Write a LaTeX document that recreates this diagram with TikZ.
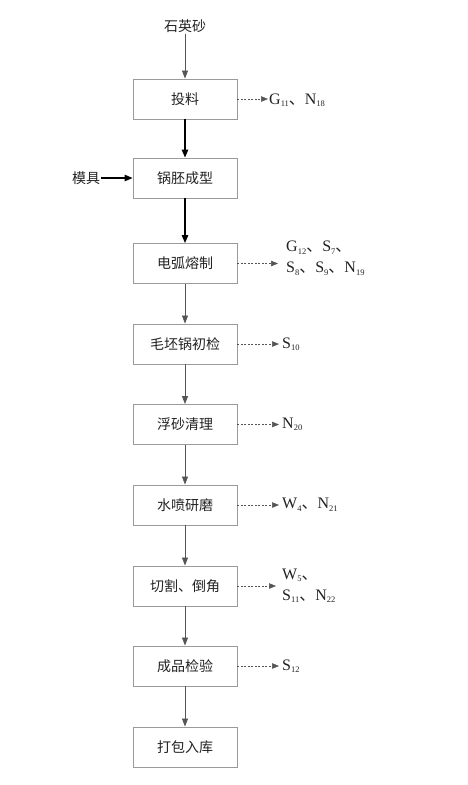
\documentclass[tikz,border=0pt]{standalone}
\usepackage{fontspec}
\setmainfont{Liberation Serif}
\newfontfamily\cjk{Noto Sans CJK SC}
\usetikzlibrary{arrows.meta}
\newcommand{\mysb}[1]{\raisebox{-2.5pt}{\fontsize{8.5}{8.5}\selectfont #1}}
\newcommand{\dun}{{\cjk 、}}
\definecolor{boxgray}{HTML}{9A9A9A}
\definecolor{arrgray}{HTML}{555555}
\definecolor{txt}{HTML}{222222}
\begin{document}
\begin{tikzpicture}[x=1pt,y=-1pt,
  procbox/.style={draw=boxgray, line width=0.9pt, minimum width=104pt, minimum height=40pt, inner sep=0pt, font=\cjk\fontsize{14}{14}\selectfont, text=txt},
  plain/.style={font=\cjk\fontsize{14}{14}\selectfont, text=txt, inner sep=1pt},
  emis/.style={anchor=west, inner sep=1pt, align=left, font=\fontsize{16}{21}\selectfont, text=txt},
  thinarr/.style={draw=arrgray, line width=0.7pt, -{Triangle[length=8pt,width=6pt]}},
  thickarr/.style={draw=black, line width=1.2pt, -{Triangle[length=8pt,width=6.5pt]}},
  dasharr/.style={draw=arrgray, line width=0.6pt, dash pattern=on 2pt off 1.5pt, -{Triangle[length=7pt,width=5.5pt]}}
]
\useasboundingbox (0,0) rectangle (468,785);
\node[plain] (src) at (185,26) {石英砂};
\node[plain] (mold) at (86,178) {模具};
\node[procbox] (b1) at (185,99) {投料};
\node[procbox] (b2) at (185,178) {锅胚成型};
\node[procbox] (b3) at (185,263.5) {电弧熔制};
\node[procbox] (b4) at (185,344) {毛坯锅初检};
\node[procbox] (b5) at (185,424.5) {浮砂清理};
\node[procbox] (b6) at (185,505) {水喷研磨};
\node[procbox] (b7) at (185,586) {切割\dun 倒角};
\node[procbox] (b8) at (185,666) {成品检验};
\node[procbox] (b9) at (185,747) {打包入库};

\node[emis] (l1) at (268,100) {G\mysb{11}\dun N\mysb{18}};
\node[emis] (l3) at (285,258) {G\mysb{12}\dun S\mysb{7}\dun\\S\mysb{8}\dun S\mysb{9}\dun N\mysb{19}};
\node[emis] (l4) at (281,344) {S\mysb{10}};
\node[emis] (l5) at (281,424.5) {N\mysb{20}};
\node[emis] (l6) at (281,505) {W\mysb{4}\dun N\mysb{21}};
\node[emis] (l7) at (281,586) {W\mysb{5}\dun\\S\mysb{11}\dun N\mysb{22}};
\node[emis] (l8) at (281,666) {S\mysb{12}};

\draw[thinarr] (src) -- (b1);
\draw[thickarr] (b1) -- (b2);
\draw[thickarr] (mold) -- (b2);
\draw[thickarr] (b2) -- (b3);
\draw[thinarr] (b3) -- (b4);
\draw[thinarr] (b4) -- (b5);
\draw[thinarr] (b5) -- (b6);
\draw[thinarr] (b6) -- (b7);
\draw[thinarr] (b7) -- (b8);
\draw[thinarr] (b8) -- (b9);

\draw[dasharr] (b1.east) -- (b1.east -| l1.west);
\draw[dasharr] (b3.east) -- ([xshift=-7pt]b3.east -| l3.west);
\draw[dasharr] (b4.east) -- ([xshift=-2pt]b4.east -| l4.west);
\draw[dasharr] (b5.east) -- ([xshift=-2pt]b5.east -| l5.west);
\draw[dasharr] (b6.east) -- ([xshift=-2pt]b6.east -| l6.west);
\draw[dasharr] (b7.east) -- ([xshift=-5pt]b7.east -| l7.west);
\draw[dasharr] (b8.east) -- ([xshift=-2pt]b8.east -| l8.west);
\end{tikzpicture}
\end{document}
